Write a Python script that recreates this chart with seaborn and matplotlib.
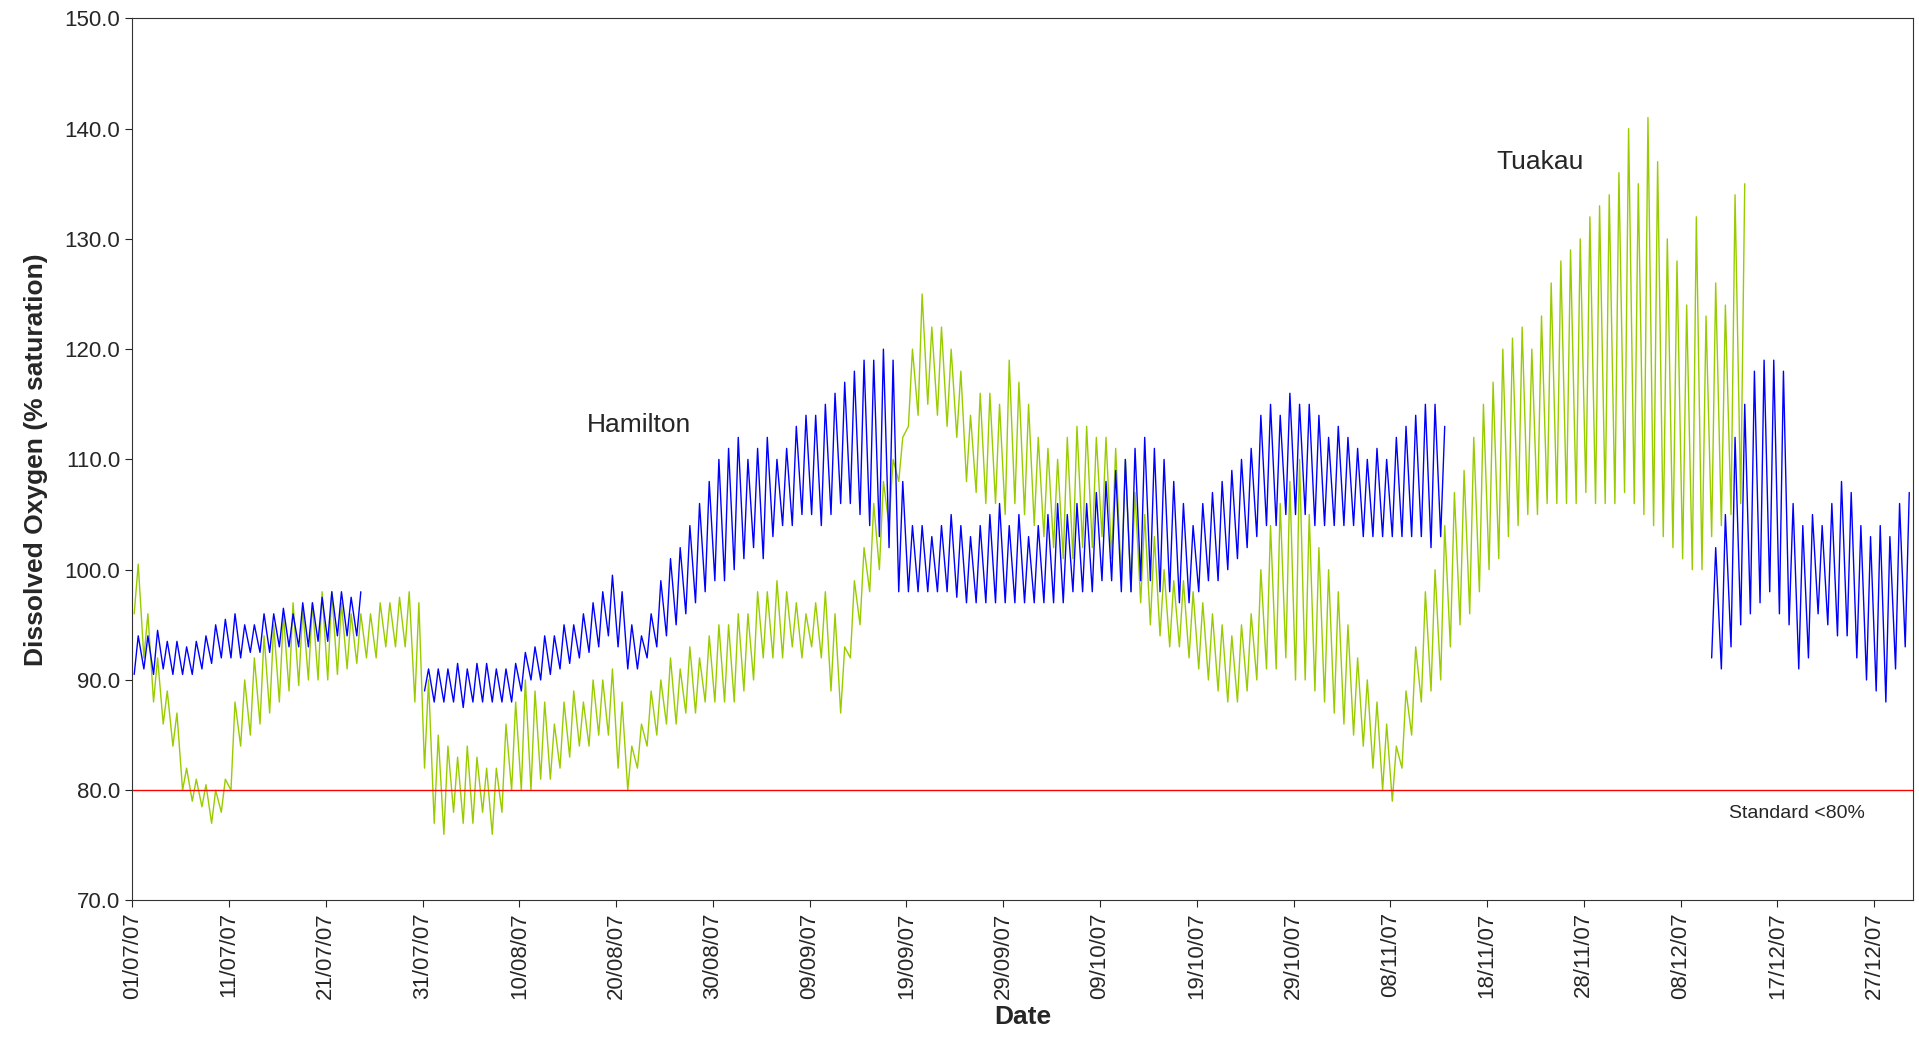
import numpy as np
import pandas as pd
import matplotlib.pyplot as plt
import seaborn as sns

nan = np.nan
days = pd.date_range("2007-07-01", "2007-12-31", freq="D")

tick_labels = ["01/07/07", "11/07/07", "21/07/07", "31/07/07", "10/08/07", "20/08/07",
               "30/08/07", "09/09/07", "19/09/07", "29/09/07", "09/10/07", "19/10/07",
               "29/10/07", "08/11/07", "18/11/07", "28/11/07", "08/12/07", "17/12/07",
               "27/12/07"]

# daily minima / maxima (Jul..Dec)
ham_min = ([90.5,91,90.5,91,90.5,90.5,90.5,91,91.5,92, 92,92,92.5,92.5,92.5,93,93,93,93,93.5, 93.5,94,94,94] + [nan]*6 + [89] +
           [88,88,88,87.5,88,88,88,88,88,89, 90,90,90.5,91,91.5,92,92.5,93,94,93, 91,91,92,93,94,95,96,97,98,99, 99] +
           [100,101,102,101,103,104,104,105,105,104, 105,106,106,105,104,103,102,98,98,98, 98,98,98,97.5,97,97,97,97,97,97] +
           [97,97,97,97,97,98,98,98,99,99, 98,98,99,99,98,98,97,97,98,99, 99,100,101,102,103,104,104,105,105,105, 104] +
           [104,104,104,104,103,103,103,103,103,103,103,102,103] + [nan]*17 +
           [nan]*10 + [92,91,93,95,96,97,98, 96,95,91,92,96,95,94,94,92,90,89,88,91,93])
ham_max = ([94,94,94.5,93.5,93.5,93,93.5,94,95,95.5, 96,95,95,96,96,96.5,96,97,97,97.5, 98,98,97.5,98] + [nan]*6 + [91] +
           [91,91,91.5,91,91.5,91.5,91,91,91.5,92.5, 93,94,94,95,95,96,97,98,99.5,98, 95,94,96,99,101,102,104,106,108,110, 111] +
           [112,110,111,112,110,111,113,114,114,115, 116,117,118,119,119,120,119,108,104,104, 103,104,105,104,103,104,105,106,104,105] +
           [103,104,105,106,105,106,106,107,108,109, 110,111,112,111,110,108,106,104,106,107, 108,109,110,111,114,115,114,116,115,115, 114] +
           [112,113,112,111,110,111,110,112,113,114,115,115,113] + [nan]*17 +
           [nan]*10 + [102,105,112,115,118,119,119, 118,106,104,105,104,106,108,107,104,103,104,103,106,107])

tua_min = ([96,92,88,86,84,80,79,78.5,77,78, 80,84,85,86,87,88,89,89.5,90,90, 90,90.5,91,91.5,92,92,93,93,93,88, 82] +
           [77,76,78,77,77,78,76,78,80,80, 80,81,81,82,83,84,84,85,85,82, 80,82,84,85,86,86,87,87,88,88, 88] +
           [88,89,90,92,92,92,93,92,93,92, 89,87,92,95,98,100,104,108,113,114, 115,114,113,112,108,107,106,106,105,106] +
           [105,104,103,102,101,101,102,102,103,101, 99,98,97,95,94,93,93,92,91,90, 89,88,88,89,90,91,91,92,90,90, 89] +
           [88,87,86,85,84,82,80,79,82,85, 88,89,90,93,95,96,98,100,101,103, 104,105,105,106,106,106,106,107,106,106] +
           [106,107,106,105,104,103,102,101,100,100,103,104,105,106] + [nan]*17)
tua_max = ([100.5,96,92,89,87,82,81,80.5,80,81, 88,90,92,94,95,96,97,96.5,97,98, 98,97,96,96,96,97,97,97.5,98,97, 90] +
           [85,84,83,84,83,82,82,86,88,90, 89,88,86,88,89,88,90,90,91,88, 84,86,89,90,92,91,93,92,94,95, 95] +
           [96,96,98,98,99,98,97,96,97,98, 96,93,99,102,106,108,110,112,120,125, 122,122,120,118,114,116,116,115,119,117] +
           [115,112,111,110,112,113,113,112,112,111, 110,107,105,103,100,99,99,98,97,96, 95,94,95,96,100,104,106,108,110,105, 102] +
           [100,98,95,92,90,88,86,84,89,93, 98,100,104,107,109,112,115,117,120,121, 122,120,123,126,128,129,130,132,133,134] +
           [136,140,135,141,137,130,128,124,132,123,126,124,134,135] + [nan]*17)


def zigzag(mins, maxs):
    t, v = [], []
    for d, lo, hi in zip(days, mins, maxs):
        t += [d + pd.Timedelta(hours=5), d + pd.Timedelta(hours=15)]
        v += [lo, hi]
    return pd.DataFrame({"time": t, "value": v})


ham = zigzag(ham_min, ham_max)
tua = zigzag(tua_min, tua_max)

sns.set_style("ticks")
plt.rcParams["font.family"] = ["Liberation Sans", "DejaVu Sans"]

fig = plt.figure(figsize=(19.19, 10.63), dpi=100)
ax = fig.add_axes([108/1568, 1-737/870, (1563-108)/1568, (737-15)/870])

ax.plot(tua["time"], tua["value"], color="#99CC00", lw=1.0)
ax.plot(ham["time"], ham["value"], color="#0000FF", lw=1.0)
ax.axhline(80, color="#FF0000", lw=1.0)

ax.set_ylim(70, 150)
ax.set_yticks(np.arange(70, 151, 10))
ax.yaxis.set_major_formatter(plt.FuncFormatter(lambda v, p: f"{v:.1f}"))
ax.set_xlim(pd.Timestamp("2007-07-01"), pd.Timestamp("2008-01-01"))
ax.set_xticks(pd.date_range("2007-07-01", periods=len(tick_labels), freq="10D"))
ax.set_xticklabels(tick_labels, rotation=90)
ax.tick_params(labelsize=16, direction="out", length=5)
for s in ax.spines.values():
    s.set_color("#333333")

ax.set_xlabel("Date", fontsize=19, fontweight="bold")
ax.set_ylabel("Dissolved Oxygen (% saturation)", fontsize=19, fontweight="bold", labelpad=12)

ax.text(pd.Timestamp("2007-08-17"), 112.5, "Hamilton", fontsize=19)
ax.text(pd.Timestamp("2007-11-19"), 136.3, "Tuakau", fontsize=19)
ax.text(pd.Timestamp("2007-12-13"), 77.5, "Standard <80%", fontsize=14)

fig.savefig("out.png", dpi=100)
